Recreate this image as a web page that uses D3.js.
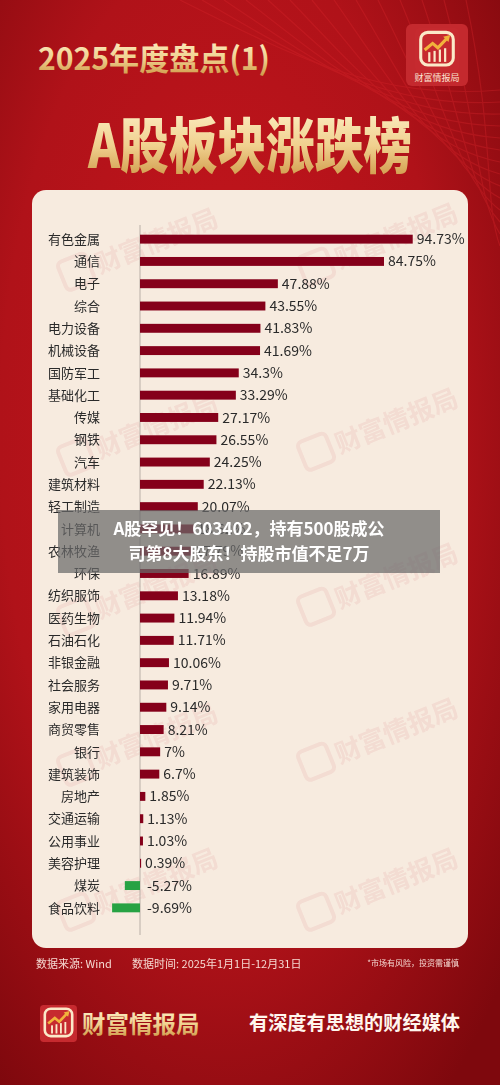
<!DOCTYPE html>
<html><head><meta charset="utf-8">
<script src="https://cdn.jsdelivr.net/npm/d3@7"></script>
<style>html,body{margin:0;padding:0;background:#a5101a;}svg{display:block;}</style>
</head><body>
<svg id="c" width="500" height="1085"></svg>
<script>
const categories = ["有色金属","通信","电子","综合","电力设备","机械设备","国防军工","基础化工","传媒","钢铁","汽车","建筑材料","轻工制造","计算机","农林牧渔","环保","纺织服饰","医药生物","石油石化","非银金融","社会服务","家用电器","商贸零售","银行","建筑装饰","房地产","交通运输","公用事业","美容护理","煤炭","食品饮料"];
const values = [94.73,84.75,47.88,43.55,41.83,41.69,34.3,33.29,27.17,26.55,24.25,22.13,20.07,18.62,17.79,16.89,13.18,11.94,11.71,10.06,9.71,9.14,8.21,7,6.7,1.85,1.13,1.03,0.39,-5.27,-9.69];
const title1 = "2025年度盘点(1)";
const title2 = "A股板块涨跌榜";
const sourceText = "数据来源: Wind";
const timeText = "数据时间: 2025年1月1日-12月31日";
const riskText = "*市场有风险，投资需谨慎";
const brand = "财富情报局";
const slogan = "有深度有思想的财经媒体";
const overlayLines = ["A股罕见！603402，持有500股成公","司第8大股东！持股市值不足7万"];

const svg = d3.select("#c");
const defs = svg.append("defs");
const bg = defs.append("radialGradient").attr("id","bg").attr("cx","45%").attr("cy","40%").attr("r","75%");
bg.append("stop").attr("offset","0%").attr("stop-color","#c8161d");
bg.append("stop").attr("offset","60%").attr("stop-color","#b01219");
bg.append("stop").attr("offset","100%").attr("stop-color","#7e080d");
const gold = defs.append("linearGradient").attr("id","gold").attr("x1","0").attr("y1","0").attr("x2","0").attr("y2","1");
gold.append("stop").attr("offset","0%").attr("stop-color","#fff6d2");
gold.append("stop").attr("offset","55%").attr("stop-color","#f0d08e");
gold.append("stop").attr("offset","100%").attr("stop-color","#c98f3c");

svg.append("rect").attr("width",500).attr("height",1085).attr("fill","url(#bg)");
const sw = svg.append("g").attr("stroke","#d8262c").attr("fill","none").attr("opacity",0.35);
for (let i=0;i<14;i++){
  sw.append("path").attr("d",`M${180+i*22},0 C${300+i*15},${60+i*6} ${380+i*8},${100+i*8} 500,${90+i*12}`).attr("stroke-width",1.2);
}

const font = "'Noto Sans CJK SC','Noto Sans',sans-serif";
svg.append("text").attr("x",38).attr("y",70).attr("font-family",font).attr("font-weight",700)
  .attr("font-size",31).attr("fill","url(#gold)").attr("textLength",232).attr("lengthAdjust","spacingAndGlyphs").text(title1);
svg.append("text").attr("x",88).attr("y",168).attr("font-family",font).attr("font-weight",900)
  .attr("font-size",60).attr("fill","url(#gold)").attr("textLength",324).attr("lengthAdjust","spacingAndGlyphs").text(title2);

function logo(g, s){
  g.append("rect").attr("x",0).attr("y",0).attr("width",s).attr("height",s).attr("rx",s*0.1).attr("fill","#c62a2f");
  g.append("rect").attr("x",s*0.13).attr("y",s*0.1).attr("width",s*0.74).attr("height",s*0.74).attr("rx",s*0.16).attr("fill","none").attr("stroke","#fbe9c9").attr("stroke-width",s*0.07);
  [0,1,2,3].forEach(i=>g.append("rect").attr("x",s*(0.3+i*0.12)).attr("y",s*(0.55-i*0.03)).attr("width",s*0.05).attr("height",s*(0.22+i*0.03)).attr("fill","#fbe9c9"));
  g.append("path").attr("d",`M${s*0.22},${s*0.5} L${s*0.4},${s*0.35} L${s*0.52},${s*0.45} L${s*0.74},${s*0.22}`).attr("stroke","#f1b33c").attr("stroke-width",s*0.07).attr("fill","none");
  g.append("path").attr("d",`M${s*0.64},${s*0.2} L${s*0.8},${s*0.16} L${s*0.76},${s*0.32} Z`).attr("fill","#f1b33c");
}
const tl = svg.append("g").attr("transform","translate(406,24)");
tl.append("rect").attr("width",62).attr("height",62).attr("rx",6).attr("fill","#c4292e");
const tli = tl.append("g").attr("transform","translate(9,4)"); logo(tli,44);
tl.append("text").attr("x",31).attr("y",57).attr("text-anchor","middle").attr("font-family",font).attr("font-size",9).attr("fill","#fbe4d2").text(brand);

svg.append("rect").attr("x",32).attr("y",190).attr("width",436).attr("height",758).attr("rx",14).attr("fill","#f7ebdf");

const wm = svg.append("g").attr("opacity",0.07);
[[120,255],[360,250],[120,440],[360,435],[120,600],[360,590],[120,750],[360,745],[120,895],[360,895]].forEach(([cx,cy])=>{
  const g = wm.append("g").attr("transform",`translate(${cx},${cy}) rotate(-22)`);
  g.append("rect").attr("x",-62).attr("y",-16).attr("width",30).attr("height",30).attr("rx",5).attr("fill","none").attr("stroke","#c0102a").attr("stroke-width",4);
  g.append("text").attr("x",-26).attr("y",10).attr("font-family",font).attr("font-size",26).attr("font-weight",700).attr("fill","#c0102a").text(brand);
});

const x = d3.scaleLinear().domain([0,100]).range([140,427.9]);
const y = d3.scaleBand().domain(categories).range([228,919]).paddingInner(0.6).paddingOuter(0.3);
const data = categories.map((c,i)=>({c,v:values[i]}));

svg.append("line").attr("x1",x(0)).attr("x2",x(0)).attr("y1",225).attr("y2",935).attr("stroke","#b9afa7").attr("stroke-width",1);

svg.append("g").selectAll("rect").data(data).join("rect")
  .attr("x",d=>x(Math.min(0,d.v))).attr("y",d=>y(d.c))
  .attr("width",d=>Math.abs(x(d.v)-x(0))).attr("height",y.bandwidth())
  .attr("fill",d=>d.v<0?"#27a243":"#85001a");

svg.append("g").selectAll("text").data(data).join("text")
  .attr("x",100).attr("y",d=>y(d.c)+y.bandwidth()/2).attr("dy","0.36em").attr("text-anchor","end")
  .attr("font-family",font).attr("font-size",13).attr("fill","#2a2a2a").text(d=>d.c);

svg.append("g").selectAll("text").data(data).join("text")
  .attr("x",d=>d.v<0?x(0)+7:x(d.v)+4).attr("y",d=>y(d.c)+y.bandwidth()/2).attr("dy","0.36em")
  .attr("font-family",font).attr("font-size",14).attr("fill","#2a2a2a").text(d=>d.v+"%");

svg.append("text").attr("x",36).attr("y",968).attr("font-family",font).attr("font-size",11).attr("fill","#f6d9d2").text(sourceText);
svg.append("text").attr("x",132).attr("y",968).attr("font-family",font).attr("font-size",11).attr("fill","#f6d9d2").text(timeText);
svg.append("text").attr("x",459).attr("y",966).attr("text-anchor","end").attr("font-family",font).attr("font-size",8).attr("fill","#f6d9d2").text(riskText);

const bl = svg.append("g").attr("transform","translate(40,1005)"); logo(bl,37);
svg.append("text").attr("x",82).attr("y",1033).attr("font-family",font).attr("font-weight",700).attr("font-size",23.5).attr("fill","url(#gold)").text(brand);
svg.append("text").attr("x",249).attr("y",1030).attr("font-family",font).attr("font-weight",700).attr("font-size",19.2).attr("fill","#fff6ee").attr("textLength",211).text(slogan);

svg.append("rect").attr("x",58).attr("y",510).attr("width",382).attr("height",63).attr("fill","rgb(105,105,105)").attr("opacity",0.72);
overlayLines.forEach((t,i)=>svg.append("text").attr("x",249).attr("y",535+i*25).attr("text-anchor","middle")
  .attr("font-family",font).attr("font-weight",700).attr("font-size",17).attr("fill","#ffffff").text(t));
</script>
</body></html>
